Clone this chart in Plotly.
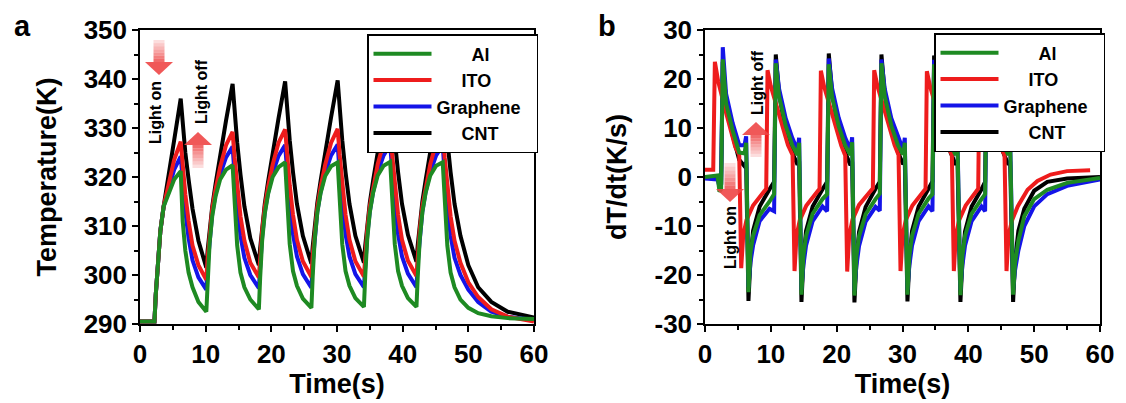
import plotly.graph_objects as go

# The page body has an 8px margin, so the figure is 8px smaller than the window
# and every page position P is placed at P - 8 inside the figure.
PAGE_W, PAGE_H, BODY = 1126, 403, 8
W, H = PAGE_W - BODY, PAGE_H - BODY
FONT = "Liberation Sans, Arial, sans-serif"

# ---------------- Panel a: temperature ----------------
time_a = [0, 1.0, 2.2,
          2.4, 2.7, 3.1, 3.6, 4.3, 5.2, 6.2, 6.5, 6.9, 7.4, 8.0, 8.9, 10.1,
          10.3, 10.6, 11.0, 11.5, 12.2, 13.1, 14.1, 14.4, 14.8, 15.3, 15.9, 16.8, 18.1,
          18.3, 18.6, 19.0, 19.5, 20.2, 21.1, 22.1, 22.4, 22.8, 23.3, 23.9, 24.8, 26.1,
          26.3, 26.6, 27.0, 27.5, 28.2, 29.1, 30.1, 30.4, 30.8, 31.3, 31.9, 32.8, 34.1,
          34.3, 34.6, 35.0, 35.5, 36.2, 37.1, 38.1, 38.4, 38.8, 39.3, 39.9, 40.8, 42.1,
          42.3, 42.6, 43.0, 43.5, 44.2, 45.1, 46.1, 46.4, 46.8, 47.3, 47.9, 48.8, 50.0, 51.5, 53.5, 56.0, 60.0]

temp_cnt = [290.5, 290.5, 290.5,
            296.0, 303.0, 309.0, 314.0, 319.5, 327.5, 336.0, 331.0, 325.0, 319.5, 313.5, 307.0, 301.5,
            305.0, 309.5, 314.0, 318.5, 324.5, 331.5, 339.0, 333.5, 327.0, 320.5, 314.0, 307.5, 302.0,
            305.5, 310.0, 314.5, 319.0, 325.0, 332.0, 339.5, 334.0, 327.5, 321.0, 314.5, 308.0, 302.3,
            305.8, 310.2, 314.7, 319.2, 325.2, 332.2, 339.7, 334.0, 327.5, 321.0, 314.5, 308.0, 302.5,
            306.0, 310.4, 314.8, 319.3, 325.3, 332.3, 339.7, 334.0, 327.5, 321.0, 314.5, 308.2, 302.7,
            306.2, 310.5, 315.0, 319.4, 325.4, 332.4, 339.7, 334.0, 327.5, 321.0, 314.5, 308.0, 302.0, 297.5, 294.5, 292.5, 291.3]

temp_ito = [290.5, 290.5, 290.5,
            296.0, 303.0, 309.0, 314.0, 318.5, 323.5, 327.2, 322.0, 316.5, 311.0, 306.0, 302.0, 299.0,
            303.5, 308.5, 313.5, 317.5, 322.0, 326.5, 329.2, 324.0, 318.0, 312.0, 307.0, 302.5, 299.5,
            304.0, 309.0, 313.8, 318.0, 322.5, 327.0, 329.7, 324.5, 318.3, 312.3, 307.2, 302.8, 299.6,
            304.0, 309.0, 313.8, 318.0, 322.5, 327.0, 329.8, 324.5, 318.3, 312.3, 307.2, 302.8, 299.7,
            304.2, 309.2, 314.0, 318.1, 322.6, 327.0, 329.6, 324.5, 318.3, 312.3, 307.2, 302.9, 299.8,
            304.2, 309.2, 314.0, 318.1, 322.6, 327.0, 329.5, 324.0, 318.0, 312.0, 307.0, 302.5, 298.5, 295.5, 293.0, 291.5, 290.5]

temp_graphene = [290.5, 290.5, 290.5,
                 296.0, 303.0, 309.0, 314.0, 317.5, 321.5, 324.2, 319.0, 313.0, 307.5, 303.0, 299.5, 297.0,
                 302.0, 307.5, 312.5, 316.5, 320.5, 324.0, 326.2, 320.5, 314.0, 308.0, 303.5, 300.0, 297.3,
                 302.3, 307.8, 312.8, 316.8, 320.8, 324.3, 326.5, 320.8, 314.3, 308.3, 303.8, 300.2, 297.4,
                 302.4, 307.9, 312.9, 316.9, 320.9, 324.4, 326.6, 320.8, 314.3, 308.3, 303.8, 300.2, 297.5,
                 302.5, 308.0, 313.0, 317.0, 321.0, 324.4, 326.6, 320.8, 314.3, 308.3, 303.8, 300.3, 297.5,
                 302.5, 308.0, 313.0, 317.0, 321.0, 324.4, 326.5, 320.5, 314.0, 308.0, 303.5, 300.0, 297.0, 294.5, 292.5, 291.5, 290.8]

temp_al = [290.5, 290.5, 290.5,
           296.0, 303.0, 309.0, 314.0, 316.5, 319.5, 321.2, 311.0, 305.0, 300.5, 297.5, 294.5, 292.5,
           299.0, 306.5, 312.0, 316.0, 319.5, 321.5, 322.4, 314.0, 306.0, 300.5, 297.5, 295.0, 293.0,
           299.5, 307.0, 312.5, 316.5, 320.0, 322.0, 323.0, 314.5, 306.3, 300.8, 297.8, 295.2, 293.3,
           299.7, 307.2, 312.7, 316.7, 320.2, 322.2, 323.0, 314.5, 306.3, 300.8, 297.8, 295.3, 293.5,
           299.8, 307.3, 312.8, 316.8, 320.3, 322.3, 323.1, 314.5, 306.3, 300.8, 297.8, 295.3, 293.5,
           299.8, 307.3, 312.8, 316.8, 320.3, 322.3, 323.0, 314.0, 306.0, 300.5, 297.5, 295.0, 293.3, 292.2, 291.6, 291.2, 291.0]

# ---------------- Panel b: dT/dt ----------------
time_b = [0, 1.9, 2.2, 2.45,
          2.7, 3.2, 4.2, 5.2, 6.0, 6.25, 6.6, 6.9, 7.3, 8.3, 9.8,
          10.5, 10.75, 11.25, 12.25, 13.25, 14.05, 14.3, 14.65, 14.95, 15.35, 16.35, 17.85,
          18.55, 18.8, 19.3, 20.3, 21.3, 22.1, 22.35, 22.7, 23.0, 23.4, 24.4, 25.9,
          26.55, 26.8, 27.3, 28.3, 29.3, 30.1, 30.35, 30.75, 31.05, 31.45, 32.45, 33.95,
          34.55, 34.8, 35.3, 36.3, 37.3, 38.1, 38.35, 38.8, 39.1, 39.5, 40.5, 42.0,
          42.55, 42.8, 43.3, 44.3, 45.3, 46.1, 46.35, 46.8, 47.1, 47.6, 48.5, 50.0, 52.0, 55.0, 60.0]

rate_cnt = [0, 0, -1.0, -1.5,
            23.5, 15.5, 8.5, 3.5, 2.2, 3.0, -25.3, -17.0, -11.0, -6.0, -2.5,
            -1.0, 25.0, 17.0, 9.5, 5.0, 2.5, 3.2, -25.5, -17.0, -11.0, -6.0, -2.5,
            -1.0, 25.2, 17.2, 9.6, 5.0, 2.4, 3.1, -25.6, -17.2, -11.2, -6.1, -2.4,
            -1.0, 25.0, 17.0, 9.5, 5.1, 2.6, 3.2, -25.4, -17.0, -11.0, -6.0, -2.4,
            -0.9, 24.8, 16.9, 9.4, 5.0, 2.5, 3.2, -25.5, -17.1, -11.1, -6.0, -2.5,
            -1.0, 25.0, 17.0, 9.5, 5.0, 2.5, 3.2, -25.5, -17.0, -11.0, -6.5, -2.8, -1.0, -0.3, 0.0]

rate_al = [0, 0.3, -3.0, -2.5,
           24.0, 15.0, 9.5, 5.0, 4.8, 7.0, -23.5, -15.5, -12.0, -7.8, -5.0,
           -3.5, 23.2, 16.5, 10.5, 6.5, 4.5, 7.0, -24.0, -16.0, -12.0, -7.5, -4.5,
           -3.5, 23.0, 16.4, 10.4, 6.4, 4.5, 7.1, -24.2, -16.1, -12.1, -7.6, -4.5,
           -3.4, 23.2, 16.5, 10.5, 6.5, 4.6, 7.0, -24.0, -16.0, -12.0, -7.5, -4.4,
           -3.5, 23.0, 16.4, 10.5, 6.5, 4.5, 7.0, -24.1, -16.0, -12.0, -7.5, -4.5,
           -3.5, 23.0, 16.5, 10.5, 6.5, 4.5, 7.0, -24.0, -17.5, -13.0, -8.0, -4.5, -2.6, -1.2, -0.2]

rate_graphene = [-0.3, -0.5, -2.0, -1.5,
                 26.5, 17.0, 11.0, 6.5, 6.5, 8.3, -22.5, -17.5, -14.0, -9.0, -6.5,
                 -7.0, 24.0, 18.0, 12.0, 8.0, 5.5, 8.0, -23.0, -18.0, -14.0, -9.0, -6.0,
                 -7.0, 24.2, 18.1, 12.1, 8.0, 5.6, 8.1, -23.2, -18.1, -14.1, -9.1, -6.1,
                 -6.9, 24.0, 18.0, 12.0, 8.1, 5.5, 8.0, -23.0, -18.0, -14.0, -9.0, -6.0,
                 -7.0, 23.9, 17.9, 11.9, 8.0, 5.5, 7.9, -23.1, -18.0, -14.0, -9.0, -6.0,
                 -7.0, 24.0, 18.0, 12.0, 8.0, 5.5, 8.0, -23.0, -19.0, -15.0, -10.0, -6.0, -3.5, -1.8, -0.5]

time_b_ito = [0, 1.25, 1.5, 2.0, 3.1, 4.6, 5.2, 5.5, 5.8, 6.3, 7.3, 8.3, 9.3,
              9.5, 10.0, 11.1, 12.6, 13.3, 13.6, 13.9, 14.4, 15.4, 16.4, 17.4,
              17.6, 18.1, 19.2, 20.7, 21.3, 21.6, 21.9, 22.4, 23.4, 24.4, 25.5,
              25.7, 26.2, 27.3, 28.8, 29.4, 29.7, 30.0, 30.5, 31.5, 32.5, 33.5,
              33.7, 34.2, 35.3, 36.8, 37.5, 37.8, 38.1, 38.6, 39.6, 40.6, 41.5,
              41.7, 42.2, 43.3, 44.8, 45.5, 45.8, 46.1, 46.6, 47.5, 49.0, 50.5, 52.5, 55.0, 58.5]

rate_ito = [1.5, 1.5, 23.5, 19.5, 13.6, 6.1, 4.5, -18.6, -12.0, -8.8, -5.8, -4.1, -2.4,
            21.8, 18.5, 13.5, 6.5, 4.5, -19.2, -12.0, -8.8, -5.8, -4.1, -2.4,
            21.7, 18.4, 13.4, 6.4, 4.4, -19.3, -12.0, -8.7, -5.7, -4.0, -2.3,
            21.8, 18.5, 13.5, 6.5, 4.5, -19.2, -12.0, -8.8, -5.8, -4.1, -2.4,
            21.6, 18.4, 13.4, 6.5, 4.5, -19.2, -12.0, -8.8, -5.8, -4.1, -2.4,
            21.5, 18.5, 13.5, 6.5, 4.5, -19.2, -12.0, -9.0, -6.0, -2.6, -0.8, 0.5, 1.2, 1.4]

x_ticks = [0, 10, 20, 30, 40, 50, 60]
ya_ticks = [290, 300, 310, 320, 330, 340, 350]
yb_ticks = [-30, -20, -10, 0, 10, 20, 30]

names = ["Al", "ITO", "Graphene", "CNT"]
colors = {"Al": "#1e8a22", "ITO": "#ee1c1c", "Graphene": "#1414e8", "CNT": "#000000"}
rank = {n: i + 1 for i, n in enumerate(names)}
# non-breaking-space padding so the legend labels sit centred, as in the original
pad_left = {"Al": 7, "ITO": 5, "Graphene": 0, "CNT": 5}
pad_right = {"Al": 0, "ITO": 0, "Graphene": 2, "CNT": 0}


def legend_label(n):
    return "\u00a0" * pad_left[n] + n + "\u00a0" * pad_right[n]


def fx(X):
    return (X - BODY) / W


def fy(Y):
    return 1 - (Y - BODY) / H


fig = go.Figure()

series_a = {"CNT": temp_cnt, "Graphene": temp_graphene, "ITO": temp_ito, "Al": temp_al}
for n in ["CNT", "Graphene", "ITO", "Al"]:
    fig.add_trace(go.Scatter(x=time_a, y=series_a[n], mode="lines", name=legend_label(n),
                             line=dict(color=colors[n], width=4), xaxis="x", yaxis="y",
                             legend="legend", legendrank=rank[n]))

series_b = {"CNT": (time_b, rate_cnt), "Graphene": (time_b, rate_graphene),
            "ITO": (time_b_ito, rate_ito), "Al": (time_b, rate_al)}
for n in ["CNT", "Graphene", "ITO", "Al"]:
    tx, vy = series_b[n]
    fig.add_trace(go.Scatter(x=tx, y=vy, mode="lines", name=legend_label(n),
                             line=dict(color=colors[n], width=4), xaxis="x2", yaxis="y2",
                             legend="legend2", legendrank=rank[n]))

tickfont = dict(family=FONT, size=26, color="black", weight="bold")
titlefont = dict(family=FONT, size=27, color="black", weight="bold")
minor = dict(ticks="outside", ticklen=4, tickwidth=1.5, tickcolor="black", dtick=5, tick0=0)


def xaxis(domain, anchor):
    return dict(domain=domain, anchor=anchor, range=[0, 60], tickmode="array",
                tickvals=x_ticks, ticktext=[str(v) for v in x_ticks],
                ticks="outside", ticklen=6, tickwidth=1.5, tickcolor="black", minor=minor,
                showline=True, linewidth=1.5, linecolor="black", mirror=True,
                showgrid=False, zeroline=False, tickfont=tickfont, automargin=False,
                title=dict(text="Time(s)", font=titlefont, standoff=0))


def yaxis(domain, anchor, rng, tv, title, standoff):
    return dict(domain=domain, anchor=anchor, range=rng, tickmode="array",
                tickvals=tv, ticktext=[str(v) for v in tv],
                ticks="outside", ticklen=6, tickwidth=1.5, tickcolor="black", minor=minor,
                showline=True, linewidth=1.5, linecolor="black", mirror=True,
                showgrid=False, zeroline=False, tickfont=tickfont, automargin=False,
                title=dict(text=title, font=titlefont, standoff=standoff))


ydom = [fy(324), fy(30)]
legfont = dict(family=FONT, size=18, color="black", weight="bold")

fig.update_layout(
    width=W, height=H, margin=dict(l=0, r=0, t=0, b=0, autoexpand=False),
    paper_bgcolor="white", plot_bgcolor="white",
    xaxis=xaxis([fx(140), fx(534)], "y"),
    yaxis=yaxis(ydom, "x", [290, 350], ya_ticks, "Temperature(K)", 19),
    xaxis2=xaxis([fx(705), fx(1100)], "y2"),
    yaxis2=yaxis(ydom, "x2", [-30, 30], yb_ticks, "dT/dt(K/s)", 20),
    legend=dict(x=fx(367), y=fy(34), xanchor="left", yanchor="top", bgcolor="white",
                bordercolor="black", borderwidth=1.5, font=legfont, tracegroupgap=0,
                itemwidth=58),
    legend2=dict(x=fx(934), y=fy(33), xanchor="left", yanchor="top", bgcolor="white",
                 bordercolor="black", borderwidth=1.5, font=legfont, tracegroupgap=0,
                 itemwidth=58),
)


def arrow(cx, y_tail, y_tip, shaft_w=11, head_w=28, head_h=13, rgb=(238, 70, 70)):
    shapes = []
    d = 1 if y_tip > y_tail else -1
    base = y_tip - d * head_h
    r, g, b = rgb
    n = 7
    for i in range(n):
        ya = y_tail + (base - y_tail) * i / n
        yb = y_tail + (base - y_tail) * (i + 1) / n
        a = 0.08 + 0.72 * (i + 1) / n
        shapes.append(dict(type="rect", xref="paper", yref="paper",
                           x0=fx(cx - shaft_w / 2), x1=fx(cx + shaft_w / 2),
                           y0=fy(ya), y1=fy(yb), line=dict(width=0),
                           fillcolor=f"rgba({r},{g},{b},{a:.2f})", layer="above"))
    path = (f"M {fx(cx - head_w / 2)} {fy(base)} L {fx(cx + head_w / 2)} {fy(base)} "
            f"L {fx(cx)} {fy(y_tip)} Z")
    shapes.append(dict(type="path", xref="paper", yref="paper", path=path,
                       line=dict(width=0), fillcolor=f"rgba({r},{g},{b},0.9)", layer="above"))
    return shapes


shapes = []
shapes += arrow(159, 40, 75)     # panel a light on
shapes += arrow(198, 168, 132)   # panel a light off
shapes += arrow(756, 157, 122)   # panel b light off
shapes += arrow(730, 163, 202)   # panel b light on
fig.update_layout(shapes=shapes)

notefont = dict(family=FONT, size=16, color="black", weight="bold")
annos = [
    dict(text="Light on", x=fx(156), y=fy(113), textangle=-90),
    dict(text="Light off", x=fx(201), y=fy(92), textangle=-90),
    dict(text="Light off", x=fx(757), y=fy(83), textangle=-90),
    dict(text="Light on", x=fx(730), y=fy(238), textangle=-90),
]
for a in annos:
    fig.add_annotation(xref="paper", yref="paper", showarrow=False, font=notefont,
                       xanchor="center", yanchor="middle", **a)

panelfont = dict(family=FONT, size=29, color="black", weight="bold")
fig.add_annotation(text="a", x=fx(22), y=fy(26), xref="paper", yref="paper", showarrow=False,
                   font=panelfont, xanchor="center", yanchor="middle")
fig.add_annotation(text="b", x=fx(607), y=fy(26), xref="paper", yref="paper", showarrow=False,
                   font=panelfont, xanchor="center", yanchor="middle")

fig.write_html("out.html")
